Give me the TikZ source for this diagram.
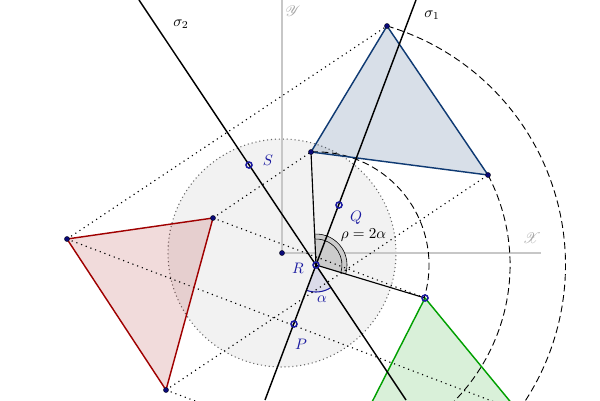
\documentclass[tikz,border=0pt]{standalone}
\usepackage{mathrsfs}
\definecolor{navy}{HTML}{0A0A78}
\definecolor{lblue}{HTML}{1A1AA0}
\definecolor{tblue}{HTML}{0F3A73}
\definecolor{tred}{HTML}{A00000}
\definecolor{tgreen}{HTML}{00A000}
\tikzset{
 axisline/.style={draw=black!22,line width=1.3pt},
 axislabel/.style={text=black!35},
 mirror/.style={draw=black,line width=0.95pt},
 spoke/.style={draw=black,line width=0.75pt},
 link/.style={draw=black,line width=0.75pt,dash pattern=on 0.75pt off 2.55pt},
 orbit/.style={draw=black,line width=0.6pt,dash pattern=on 4.5pt off 2.5pt},
 tri/.style={line width=0.95pt,line join=round},
 vertexdot/.style={circle,fill=navy,draw=black,line width=0.2pt,inner sep=0pt,minimum size=3.4pt},
 ringdot/.style={circle,draw=lblue,line width=1pt,inner sep=0pt,minimum size=4pt},
 ptlabel/.style={text=lblue,inner sep=0pt},
 plainlabel/.style={text=black,inner sep=0pt}
}
\begin{document}
\begin{tikzpicture}[x=0.66pt,y=0.66pt]
\useasboundingbox (0,0) rectangle (600,400);
\clip (0,0) rectangle (600,400);
\fill[white] (0,0) rectangle (600,400);
\coordinate (O) at (282,147);
\coordinate (R) at (316,135);
\coordinate (A) at (387,374);
\coordinate (B) at (488,225);
\coordinate (C) at (311,248);
\coordinate (A1) at (67,161);
\coordinate (C1) at (213,182);
\coordinate (B1) at (166,10);
\coordinate (A2) at (518,-11);
\coordinate (B2) at (344,-57);
\coordinate (C2) at (425,102);
\coordinate (S) at (249,235);
\coordinate (Q) at (339,195);
\coordinate (P) at (294,76);
\coordinate (m1a) at (416,400);
\coordinate (m1b) at (265,0);
\coordinate (m2a) at (139,400);
\coordinate (m2b) at (406,0);
\coordinate (Xend) at (541,147);
\coordinate (Yend) at (282,400);
% disc
\fill[black!5] (O) circle[radius=114];
\draw[black!60,line width=0.7pt,dash pattern=on 0.7pt off 1.9pt] (O) circle[radius=114];
% axes
\draw[axisline] (O) -- (Xend);
\draw[axisline] (O) -- (Yend);
% triangles
\fill[tblue,opacity=0.16] (A) -- (B) -- (C) -- cycle;
\fill[tred,opacity=0.14] (A1) -- (C1) -- (B1) -- cycle;
\fill[tgreen,opacity=0.15] (A2) -- (B2) -- (C2) -- cycle;
% angle sectors
\fill[black!20] (R) -- ++(92.5:31) arc[start angle=92.5,end angle=-16.8,radius=31] -- cycle;
\draw[black,line width=0.4pt] (R) ++(92.5:31) arc[start angle=92.5,end angle=-16.8,radius=31];
\draw[black,line width=0.4pt] (R) ++(92.5:26) arc[start angle=92.5,end angle=-16.8,radius=26];
\fill[lblue,opacity=0.1] (R) -- ++(249:27) arc[start angle=249,end angle=303.8,radius=27] -- cycle;
\draw[lblue,line width=0.7pt] (R) ++(249:27) arc[start angle=249,end angle=303.8,radius=27];
% orbits
\draw[orbit] (A) arc[start angle=73.5,end angle=-35.8,radius=249.3];
\draw[orbit] (B) arc[start angle=27.6,end angle=-81.7,radius=194.1];
\draw[orbit] (C) arc[start angle=92.5,end angle=-16.8,radius=113.1];
% links
\draw[link] (A1) -- (A);
\draw[link] (C1) -- (C);
\draw[link] (B1) -- (B);
\draw[link] (A1) -- (A2);
\draw[link] (C1) -- (C2);
\draw[link] (B1) -- (B2);
% triangle outlines
\draw[tri,tblue] (A) -- (B) -- (C) -- cycle;
\draw[tri,tred] (A1) -- (C1) -- (B1) -- cycle;
\draw[tri,tgreen] (A2) -- (B2) -- (C2) -- cycle;
% mirrors and spokes
\draw[mirror] (m1a) -- (m1b);
\draw[mirror] (m2a) -- (m2b);
\draw[spoke] (R) -- (C);
\draw[spoke] (R) -- (C2);
% points
\node[vertexdot] (dO) at (O) {};
\node[vertexdot] (dA) at (A) {};
\node[vertexdot] (dB) at (B) {};
\node[vertexdot] (dC) at (C) {};
\node[vertexdot] (dA1) at (A1) {};
\node[vertexdot] (dC1) at (C1) {};
\node[vertexdot] (dB1) at (B1) {};
\node[ringdot] (dS) at (S) {};
\node[ringdot] (dQ) at (Q) {};
\node[ringdot] (dP) at (P) {};
\node[ringdot] (dR) at (R) {};
\node[ringdot] (dC2) at (C2) {};
% labels
\node[plainlabel] (ls2) at (181,376) {$\sigma_2$};
\node[plainlabel] (ls1) at (432,385) {$\sigma_1$};
\node[axislabel,inner sep=0pt] (lY) at (293,389) {$\mathscr{Y}$};
\node[axislabel,inner sep=0pt] (lX) at (532,161.5) {$\mathscr{X}$};
\node[ptlabel] (lS) at (268,240) {$S$};
\node[ptlabel] (lQ) at (356,182) {$Q$};
\node[ptlabel] (lR) at (298,132) {$R$};
\node[ptlabel] (lP) at (301,56) {$P$};
\node[ptlabel] (la) at (322,101) {$\alpha$};
\node[plainlabel] (lr) at (363.5,165) {$\rho=2\alpha$};
\end{tikzpicture}
\end{document}
